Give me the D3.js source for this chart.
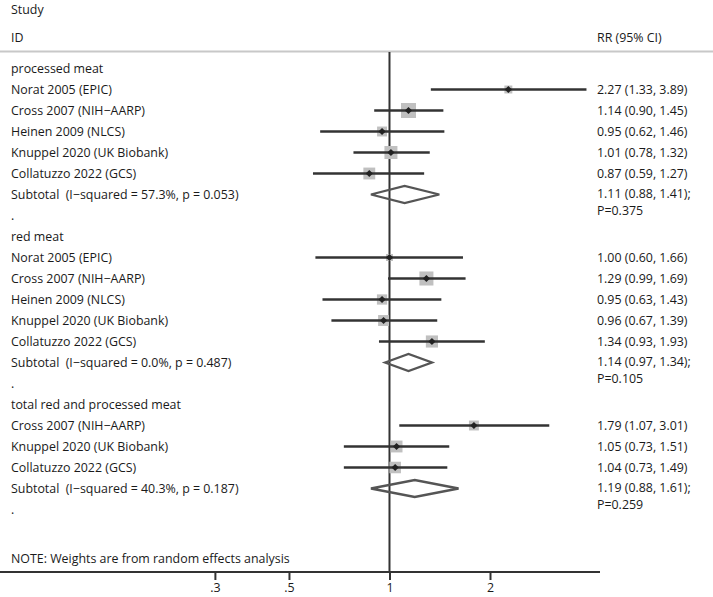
<!DOCTYPE html>
<html><head><meta charset="utf-8">
<script src="https://cdn.jsdelivr.net/npm/d3@7"></script>
<style>body{margin:0;background:#fff}svg{display:block}text{font-family:"Open Sans",sans-serif;fill:#1a1a1a;white-space:pre}</style>
</head><body><svg id="c" width="713" height="597"></svg>
<script>
const groups = ["processed meat", "red meat", "total red and processed meat"];
const studyGroup = [0,0,0,0,0, 1,1,1,1,1, 2,2,2];
const studyLabel = ["Norat 2005 (EPIC)","Cross 2007 (NIH\u2212AARP)","Heinen 2009 (NLCS)","Knuppel 2020 (UK Biobank)","Collatuzzo 2022 (GCS)",
  "Norat 2005 (EPIC)","Cross 2007 (NIH\u2212AARP)","Heinen 2009 (NLCS)","Knuppel 2020 (UK Biobank)","Collatuzzo 2022 (GCS)",
  "Cross 2007 (NIH\u2212AARP)","Knuppel 2020 (UK Biobank)","Collatuzzo 2022 (GCS)"];
const rr = [2.27,1.14,0.95,1.01,0.87, 1.00,1.29,0.95,0.96,1.34, 1.79,1.05,1.04];
const lo = [1.33,0.90,0.62,0.78,0.59, 0.60,0.99,0.63,0.67,0.93, 1.07,0.73,0.73];
const hi = [3.89,1.45,1.46,1.32,1.27, 1.66,1.69,1.43,1.39,1.93, 3.01,1.51,1.49];
const weight = [9,32,14,24,20, 7,28,15,17,21, 14,20,19];
const subRR = [1.11,1.14,1.19];
const subLo = [0.88,0.97,0.88];
const subHi = [1.41,1.34,1.61];
const subI2 = ["57.3%","0.0%","40.3%"];
const subHetP = ["0.053","0.487","0.187"];
const subP = ["0.375","0.105","0.259"];
const tickValues = [0.3,0.5,1,2];
const tickLabels = [".3",".5","1","2"];

const svg = d3.select("#c");
const W = 713;
const x = d3.scaleLog().domain([0.3,2]).range([214.9,490.0]);
const row0 = 68.5, rowH = 21;
const yRow = i => row0 + i*rowH;
const boxSize = d3.scaleSqrt().domain([0,32]).range([0,15]);
const fs = 12.4;
const leftX = 11, rightX = 597;
const axisY = 572;

function txt(xp, yp, s){
  return svg.append("text").attr("x",xp).attr("y",yp).attr("dy","0.35em").attr("font-size",fs).text(s);
}

// header
txt(leftX, 10, "Study");
txt(leftX, 38, "ID");
txt(rightX, 38, "RR (95% CI)");
svg.append("line").attr("x1",0).attr("x2",W).attr("y1",51.5).attr("y2",51.5).attr("stroke","#c8c8c8").attr("stroke-width",2);

// null line
svg.append("line").attr("x1",x(1)).attr("x2",x(1)).attr("y1",52).attr("y2",axisY).attr("stroke","#333").attr("stroke-width",2);

// rows
let r = 0;
const studyRows = [], subRows = [];
groups.forEach((g,gi)=>{
  txt(leftX, yRow(r), g);
  r++;
  studyGroup.forEach((sg,si)=>{ if(sg===gi){ studyRows[si]=r; r++; } });
  subRows[gi]=r; r++;
  txt(leftX, yRow(r), ".");
  r++;
});

studyLabel.forEach((lab,i)=>{
  const y = yRow(studyRows[i]);
  txt(leftX, y, lab);
  const s = boxSize(weight[i]);
  svg.append("rect").attr("x",x(rr[i])-s/2).attr("y",y-s/2).attr("width",s).attr("height",s).attr("fill","#c0c0c0");
  svg.append("line").attr("x1",x(lo[i])).attr("x2",x(hi[i])).attr("y1",y).attr("y2",y).attr("stroke","#333").attr("stroke-width",2.5);
  const d=3.6;
  svg.append("path").attr("d",`M${x(rr[i])-d},${y}L${x(rr[i])},${y-d}L${x(rr[i])+d},${y}L${x(rr[i])},${y+d}Z`).attr("fill","#222");
  txt(rightX, y, `${rr[i].toFixed(2)} (${lo[i].toFixed(2)}, ${hi[i].toFixed(2)})`);
});

groups.forEach((g,gi)=>{
  const y = yRow(subRows[gi]);
  txt(leftX, y, `Subtotal  (I\u2212squared = ${subI2[gi]}, p = ${subHetP[gi]})`);
  const h=8.5;
  svg.append("path").attr("d",`M${x(subLo[gi])},${y}L${x(subRR[gi])},${y-h}L${x(subHi[gi])},${y}L${x(subRR[gi])},${y+h}Z`)
    .attr("fill","none").attr("stroke","#555").attr("stroke-width",2.3);
  txt(rightX, y-0.5, `${subRR[gi].toFixed(2)} (${subLo[gi].toFixed(2)}, ${subHi[gi].toFixed(2)});`);
  txt(rightX, y+16.5, `P=${subP[gi]}`);
});

txt(leftX, 559, "NOTE: Weights are from random effects analysis");

// axis
svg.append("line").attr("x1",0).attr("x2",600).attr("y1",axisY).attr("y2",axisY).attr("stroke","#333").attr("stroke-width",2);
const ax = svg.append("g").attr("transform",`translate(0,${axisY})`)
  .call(d3.axisBottom(x).tickValues(tickValues).tickFormat((d,i)=>tickLabels[i]).tickSize(8).tickPadding(3));
ax.select(".domain").remove();
ax.selectAll(".tick line").attr("stroke","#333").attr("stroke-width",2);
ax.selectAll(".tick text").attr("font-size",fs).attr("font-family","'Open Sans',sans-serif").attr("fill","#1a1a1a");
</script></body></html>
